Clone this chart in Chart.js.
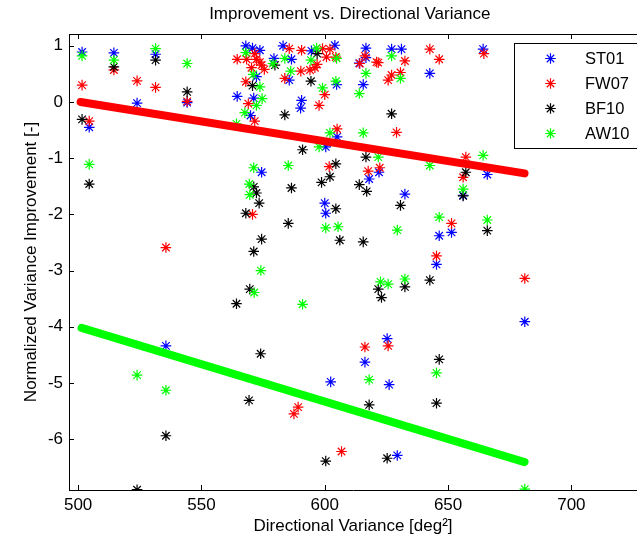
<!DOCTYPE html>
<html>
<head>
<meta charset="utf-8">
<script src="https://cdn.jsdelivr.net/npm/chart.js@4.4.1/dist/chart.umd.min.js"></script>
<style>
html,body{margin:0;padding:0;background:#fff;}
#wrap{width:637px;height:545px;position:relative;}
</style>
</head>
<body>
<div id="wrap"><canvas id="c" width="637" height="545"></canvas></div>
<script>
// ---- data (x: directional variance, y: normalized improvement) ----
const seriesNames = ['ST01','FW07','BF10','AW10'];
const xTicks = [500,550,600,650,700];
const yTicks = [-6,-5,-4,-3,-2,-1,0,1];

const ST01 = [[501.6,0.89],[504.5,-0.45],[514.5,0.875],[531.4,0.85],[523.9,-0.02],[535.6,-4.34],[544.2,-0.01],
[564.5,0.10],[568,1.0],[570.7,0.96],[573.7,0.92],[572.3,0.45],[571.2,0.07],[569.9,-0.24],
[583.1,1.0],[586.5,0.76],[579.4,0.775],[585.6,0.39],[594.6,0.91],[604.1,1.01],[604.8,0.31],[590.6,0.03],[590.2,-0.11],[605,-0.62],
[616.7,0.96],[614,0.69],[616.7,0.79],[615.6,0.31],[627.1,0.94],[631.1,0.94],[642.6,0.51],[664.2,0.94],
[600.4,-0.80],[574.4,-1.25],[622,-1.25],[618,-1.37],[632.5,-1.64],[665.9,-1.29],[656.1,-1.66],
[600,-1.80],[600.4,-1.98],[646.4,-2.38],[651.4,-2.32],[645.3,-2.89],[681.1,-3.91],[625.3,-4.21],[616.3,-4.63],[626.1,-5.03],[602.4,-4.98],[629.4,-6.29]];

const FW07 = [[501.6,0.30],[504.5,-0.34],[514.5,0.57],[523.9,0.375],[531.4,0.26],[535.6,-2.59],[544.2,0.01],
[564.5,0.76],[568.3,0.76],[571.6,0.86],[572.3,0.76],[573.7,0.71],[574.4,0.655],[570.3,0.61],[575.5,0.58],[568,0.36],[569,-0.03],[571.6,-0.34],
[585.6,0.95],[590.6,0.92],[590.3,0.55],[583.8,0.42],[594,0.57],[596,0.61],[596.9,0.67],[599.1,0.95],[602.1,0.94],[600.7,0.80],[604.5,0.80],[600,0.13],[597.7,-0.06],[605,-0.48],
[616.3,0.82],[614.2,0.685],[621,0.71],[621.7,0.70],[632.5,0.73],[627.1,0.48],[625.7,0.39],[630.7,0.525],[642.6,0.94],[646.4,0.76],[664.5,0.86],[629.1,-0.54],
[601.8,-1.15],[617.6,-1.23],[622.3,-1.17],[657.2,-0.98],[656.1,-1.34],
[570.7,-2.0],[651.4,-2.16],[645.3,-2.74],[681.1,-3.14],[625.7,-4.34],[616.3,-4.36],[589.2,-5.43],[587.5,-5.55],[606.8,-6.22]];

const BF10 = [[501.6,-0.31],[504.5,-1.46],[514.5,0.625],[531.4,0.745],[544.2,0.18],[523.9,-6.9],[535.6,-5.94],
[570.7,0.29],[579.8,0.655],[594.4,0.37],[596.9,0.86],[583.8,-0.23],[627.1,-0.21],
[591,-0.85],[616.7,-0.98],[604.5,-1.10],[602.1,-1.33],[598.7,-1.43],[571.2,-1.51],[572.3,-1.62],[573.4,-1.80],[568,-1.98],[586.5,-1.53],[614,-1.47],[617,-1.59],[657.2,-1.25],[656.1,-1.67],
[604.5,-1.90],[585.2,-2.16],[606.1,-2.46],[574.4,-2.44],[571.2,-2.66],[615.6,-2.49],[630.7,-1.84],[665.9,-2.29],
[569.6,-3.33],[564.2,-3.59],[621.7,-3.33],[623,-3.48],[632.5,-3.29],[642.6,-3.17],
[574,-4.48],[646.4,-4.58],[618,-5.39],[645.3,-5.36],[569.3,-5.31],[600.4,-6.39],[625.3,-6.34]];

const AW10 = [[501.6,0.82],[504.5,-1.11],[514.5,0.745],[531.4,0.95],[544.2,0.685],[523.9,-4.86],[535.6,-5.13],
[568,0.88],[571,0.49],[573.7,0.27],[574.6,0.06],[572.3,-0.06],[567.6,-0.19],[564.2,-0.39],
[583.8,0.775],[586.2,0.55],[579,0.685],[594.4,0.745],[596.7,0.96],[604.8,0.775],[599.1,0.25],[604.5,0.37],[602.1,-0.55],
[615.6,-0.55],[616.7,0.51],[614,0.15],[627.1,0.82],[630.7,0.42],
[597.7,-0.80],[571.2,-1.17],[585.2,-1.13],[569.4,-1.46],[569.6,-1.65],[621.7,-0.98],[642.6,-1.13],[664.2,-0.95],[656.1,-1.55],
[600.4,-2.24],[605.4,-2.22],[629.4,-2.28],[646.4,-2.05],[665.9,-2.10],
[574.1,-3.0],[571.4,-3.39],[591,-3.60],[622.6,-3.20],[625.7,-3.24],[632.5,-3.15],
[618,-4.94],[645.3,-4.82],[681.1,-6.89]];

// trend lines (end points)
const redLine = [[501,0.0],[681,-1.27]];
const greenLine = [[501.4,-4.02],[681,-6.41]];

const seriesColors = ['#0000ff','#ff0000','#000000','#00ff00'];
const toPts = a => a.map(p => ({x:p[0], y:p[1]}));

const FONT = "'Liberation Sans', Arial, Helvetica, sans-serif";

const scatterSets = [ST01,FW07,BF10,AW10].map((arr,i)=>({
  type:'scatter',
  label: seriesNames[i],
  data: toPts(arr),
  pointStyle:'star',
  pointRadius:5.3,
  pointBorderWidth:1.2,
  borderColor: seriesColors[i],
  backgroundColor: seriesColors[i],
  order: 4 - i + 1
}));

const lineSets = [
  {type:'line', label:'fitFW', data: toPts(redLine), borderColor:'#ff0000', borderWidth:8, borderCapStyle:'round', pointRadius:0, showLine:true, order:0},
  {type:'line', label:'fitAW', data: toPts(greenLine), borderColor:'#00ff00', borderWidth:8, borderCapStyle:'round', pointRadius:0, showLine:true, order:0}
];

// extend the plot area to the right edge of the canvas (the reference is cropped there)
const stretch = {
  id:'stretch',
  afterLayout(chart){
    const W = chart.width;
    chart.chartArea.right = W;
    chart.chartArea.width = W - chart.chartArea.left;
    const x = chart.scales.x;
    x.right = W;
    x.width = W - x.left;
    x.configure();
  }
};

const frame = {
  id:'frame',
  afterDraw(chart){
    const {ctx, chartArea:a, scales} = chart;
    ctx.save();
    ctx.strokeStyle = '#000';
    ctx.lineWidth = 1;
    ctx.beginPath();
    ctx.moveTo(a.left, a.top+0.5); ctx.lineTo(a.right, a.top+0.5);
    ctx.stroke();
    // inward ticks
    const L = 5;
    ctx.beginPath();
    scales.x.ticks.forEach(t=>{
      const px = Math.round(scales.x.getPixelForValue(t.value))+0.5;
      ctx.moveTo(px, a.bottom); ctx.lineTo(px, a.bottom-L);
      ctx.moveTo(px, a.top); ctx.lineTo(px, a.top+L);
    });
    scales.y.ticks.forEach(t=>{
      const py = Math.round(scales.y.getPixelForValue(t.value))+0.5;
      ctx.moveTo(a.left, py); ctx.lineTo(a.left+L, py);
    });
    ctx.stroke();
    // legend
    const bx = 514.5, by = 43.5, bw = 160, bh = 105;
    ctx.fillStyle = '#fff';
    ctx.fillRect(bx, by, bw, bh);
    ctx.strokeRect(bx, by, bw, bh);
    ctx.font = '16.5px ' + FONT;
    ctx.textBaseline = 'middle';
    ctx.textAlign = 'left';
    seriesNames.forEach((n,i)=>{
      const cy = 58.5 + i*25, cx = 550.5, r = 5.3;
      ctx.strokeStyle = seriesColors[i];
      ctx.lineWidth = 1.2;
      ctx.beginPath();
      ctx.moveTo(cx-r, cy); ctx.lineTo(cx+r, cy);
      ctx.moveTo(cx, cy-r); ctx.lineTo(cx, cy+r);
      const d = r*0.7;
      ctx.moveTo(cx-d, cy-d); ctx.lineTo(cx+d, cy+d);
      ctx.moveTo(cx-d, cy+d); ctx.lineTo(cx+d, cy-d);
      ctx.stroke();
      ctx.fillStyle = '#000';
      ctx.fillText(n, 585, cy+1);
    });
    ctx.restore();
  }
};

new Chart(document.getElementById('c'), {
  data: { datasets: [...lineSets, ...scatterSets] },
  options: {
    responsive:false,
    animation:false,
    devicePixelRatio:1,
    layout:{padding:0},
    plugins:{
      legend:{display:false},
      tooltip:{enabled:false},
      title:{display:true, fullSize:false, text:'Improvement vs. Directional Variance', color:'#000',
        font:{family:FONT, size:17, weight:'normal'}, padding:{top:4,bottom:9.6}}
    },
    scales:{
      x:{type:'linear', position:'bottom', min:496.3, max:726.6,
        grid:{display:false, drawTicks:false},
        border:{display:true, color:'#000', width:1},
        afterBuildTicks(s){ s.ticks = xTicks.map(v=>({value:v})); },
        afterFit(s){ s.height = 55; },
        ticks:{color:'#000', font:{family:FONT, size:17}, padding:5, maxRotation:0, autoSkip:false},
        title:{display:true, text:'Directional Variance [deg²]', color:'#000',
          font:{family:FONT, size:17}, padding:{top:0,bottom:8}}
      },
      y:{type:'linear', position:'left', min:-6.905, max:1.21,
        grid:{display:false, drawTicks:false},
        border:{display:true, color:'#000', width:1},
        afterBuildTicks(s){ s.ticks = yTicks.map(v=>({value:v})); },
        afterFit(s){ s.width = 69; },
        ticks:{color:'#000', font:{family:FONT, size:17}, padding:6, autoSkip:false},
        title:{display:true, text:'Normalized Variance Improvement [-]', color:'#000',
          font:{family:FONT, size:17}, padding:{top:21,bottom:0}}
      }
    }
  },
  plugins:[stretch, frame]
});
</script>
</body>
</html>
